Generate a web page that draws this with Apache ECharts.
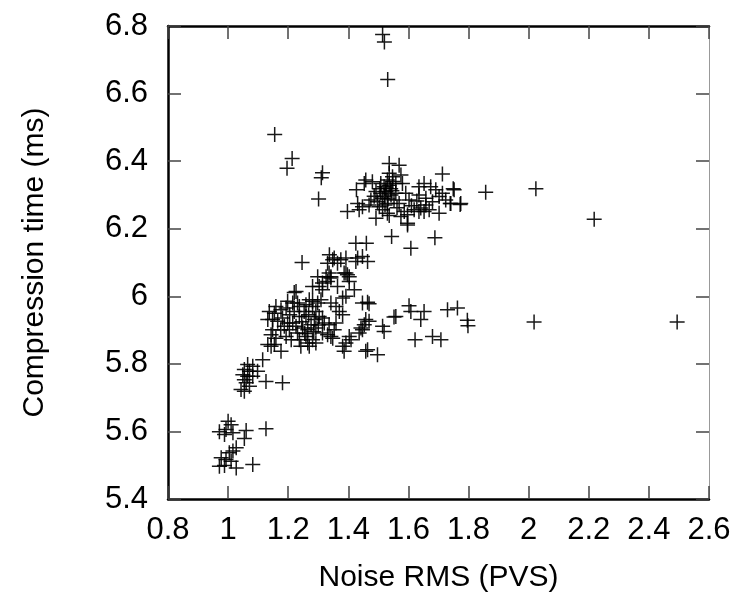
<!DOCTYPE html>
<html lang="en">

<head>
    <meta charset="UTF-8">
    <title>Compression time vs noise</title>
    <script src="https://cdn.jsdelivr.net/npm/echarts@6/dist/echarts.min.js"></script>
</head>
<style>
    body {
        margin: 0;
        background: #fff;
    }
</style>

<body>
    <div id="chart" style="width: 746px;height: 603px;"></div>
    <script>
        // axis ticks
        var xTicks = [0.8, 1, 1.2, 1.4, 1.6, 1.8, 2, 2.2, 2.4, 2.6];
        var yTicks = [5.4, 5.6, 5.8, 6, 6.2, 6.4, 6.6, 6.8];

        // [noise RMS, compression time]
        var outliers = [
            [1.514, 6.775], [1.520, 6.753], [1.531, 6.642], [1.155, 6.479], [1.213, 6.408],
            [1.196, 6.379], [1.314, 6.366], [1.310, 6.351], [1.301, 6.288], [1.397, 6.251],
            [1.427, 6.315], [1.544, 6.177], [1.608, 6.142], [1.688, 6.173], [1.713, 6.362],
            [1.425, 6.157], [1.460, 6.157], [1.749, 6.318], [1.857, 6.308], [2.024, 6.318],
            [2.218, 6.228], [1.702, 6.246], [1.772, 6.272], [1.739, 6.275], [1.597, 6.216],
            [1.536, 6.239]
        ];
        var upperCluster = [
            [1.536, 6.393], [1.569, 6.388], [1.458, 6.344], [1.480, 6.339], [1.453, 6.334],
            [1.536, 6.364], [1.547, 6.354], [1.530, 6.344], [1.575, 6.359], [1.508, 6.334],
            [1.519, 6.324], [1.536, 6.329], [1.558, 6.334], [1.580, 6.334], [1.492, 6.310],
            [1.508, 6.305], [1.525, 6.310], [1.542, 6.300], [1.558, 6.305], [1.591, 6.305],
            [1.635, 6.324], [1.652, 6.334], [1.674, 6.324], [1.691, 6.315], [1.713, 6.305],
            [1.752, 6.315], [1.475, 6.285], [1.497, 6.280], [1.514, 6.290], [1.530, 6.275],
            [1.552, 6.285], [1.569, 6.275], [1.602, 6.285], [1.431, 6.275], [1.447, 6.265],
            [1.436, 6.256], [1.469, 6.270], [1.503, 6.265], [1.514, 6.256], [1.635, 6.300],
            [1.658, 6.290], [1.680, 6.280], [1.702, 6.295], [1.724, 6.285], [1.741, 6.275],
            [1.658, 6.270], [1.641, 6.261], [1.669, 6.256], [1.652, 6.251], [1.619, 6.256],
            [1.635, 6.251], [1.586, 6.251], [1.597, 6.241], [1.575, 6.236], [1.530, 6.246],
            [1.492, 6.231], [1.774, 6.275], [1.597, 6.211], [1.525, 6.320], [1.541, 6.318],
            [1.520, 6.295], [1.532, 6.288], [1.545, 6.312], [1.505, 6.318], [1.548, 6.340],
            [1.522, 6.270], [1.486, 6.296], [1.562, 6.262], [1.610, 6.268], [1.628, 6.282]
        ];
        var middleUpper = [
            [1.246, 6.100], [1.337, 6.123], [1.348, 6.108], [1.364, 6.098], [1.331, 6.098],
            [1.353, 6.113], [1.375, 6.108], [1.392, 6.113], [1.425, 6.103], [1.431, 6.113],
            [1.447, 6.118], [1.464, 6.103], [1.336, 6.069], [1.326, 6.058], [1.298, 6.058],
            [1.392, 6.069], [1.403, 6.058], [1.386, 6.069], [1.397, 6.064], [1.403, 6.044],
            [1.420, 6.019], [1.342, 6.058], [1.364, 6.029], [1.303, 6.029], [1.314, 6.019],
            [1.281, 6.029], [1.342, 6.054], [1.331, 6.044], [1.314, 6.039], [1.226, 6.014],
            [1.220, 6.011], [1.381, 5.995], [1.392, 6.000], [1.464, 5.982], [1.469, 5.978],
            [1.447, 5.980]
        ];
        var middleCluster = [
            [1.198, 5.985], [1.215, 5.980], [1.231, 5.980], [1.270, 5.990], [1.281, 5.985],
            [1.259, 5.975], [1.159, 5.970], [1.176, 5.960], [1.193, 5.965], [1.137, 5.955],
            [1.154, 5.950], [1.132, 5.931], [1.148, 5.931], [1.165, 5.926], [1.181, 5.936],
            [1.198, 5.921], [1.215, 5.921], [1.187, 5.911], [1.237, 5.970], [1.253, 5.955],
            [1.237, 5.940], [1.259, 5.940], [1.281, 5.970], [1.292, 5.955], [1.303, 5.940],
            [1.287, 5.931], [1.276, 5.916], [1.292, 5.906], [1.265, 5.901], [1.248, 5.906],
            [1.226, 5.911], [1.204, 5.901], [1.231, 5.891], [1.148, 5.901], [1.143, 5.886],
            [1.159, 5.876], [1.132, 5.857], [1.143, 5.852], [1.154, 5.857], [1.176, 5.837],
            [1.193, 5.881], [1.210, 5.871], [1.237, 5.871], [1.259, 5.881], [1.281, 5.871],
            [1.265, 5.862], [1.292, 5.862], [1.242, 5.852], [1.270, 5.852], [1.314, 5.891],
            [1.331, 5.886], [1.342, 5.881], [1.320, 5.921], [1.336, 5.916], [1.314, 5.936],
            [1.309, 5.990], [1.298, 5.980], [1.342, 5.980], [1.359, 5.970], [1.370, 5.955],
            [1.381, 5.945], [1.359, 5.921], [1.353, 5.901], [1.348, 5.876], [1.381, 5.852],
            [1.392, 5.862], [1.403, 5.881], [1.409, 5.871], [1.386, 5.837], [1.458, 5.931],
            [1.469, 5.926], [1.453, 5.916], [1.442, 5.906], [1.436, 5.891], [1.447, 5.901],
            [1.514, 5.911], [1.519, 5.896], [1.458, 5.837], [1.497, 5.827], [1.464, 5.842],
            [1.558, 5.940], [1.552, 5.939], [1.602, 5.972], [1.608, 5.955], [1.652, 5.955],
            [1.641, 5.931], [1.730, 5.960], [1.763, 5.965], [1.796, 5.929], [1.798, 5.913],
            [1.622, 5.871], [1.680, 5.881], [1.708, 5.871], [2.018, 5.924], [2.494, 5.924],
            [1.220, 5.955], [1.245, 5.925], [1.268, 5.945], [1.205, 5.945], [1.175, 5.900],
            [1.300, 5.915], [1.285, 5.895], [1.255, 5.890]
        ];
        var lowCluster = [
            [1.115, 5.812], [1.065, 5.798], [1.082, 5.793], [1.071, 5.778], [1.054, 5.783],
            [1.098, 5.778], [1.049, 5.768], [1.065, 5.763], [1.054, 5.753], [1.082, 5.763],
            [1.060, 5.744], [1.071, 5.734], [1.043, 5.724], [1.054, 5.719], [1.126, 5.748],
            [1.181, 5.744], [1.000, 5.630], [1.010, 5.620], [0.993, 5.606], [1.016, 5.596],
            [0.971, 5.599], [0.988, 5.591], [1.060, 5.603], [1.054, 5.579], [1.126, 5.608],
            [1.027, 5.552], [1.016, 5.542], [1.004, 5.537], [0.977, 5.522], [0.993, 5.517],
            [1.010, 5.512], [0.971, 5.497], [0.988, 5.499], [1.027, 5.492], [1.082, 5.502]
        ];

        var font = 'Liberation Sans, Arial, Helvetica, sans-serif';
        var plusSymbol = 'path://M9,0h2v20h-2zM0,9h20v2h-20z';

        function frameAxis(pos, min, max, step, lineColor, lineWidth, show) {
            return {
                type: 'value',
                position: pos,
                min: min,
                max: max,
                interval: step,
                axisLine: { show: true, onZero: false, lineStyle: { color: lineColor, width: lineWidth } },
                axisTick: { show: true, inside: true, length: 13, lineStyle: { color: '#444', width: 1.5 } },
                axisLabel: { show: show, fontSize: 31, color: '#000', fontFamily: font, margin: 16 },
                splitLine: { show: false }
            };
        }

        var chart = echarts.init(document.getElementById('chart'));
        var xMin = xTicks[0], xMax = xTicks[xTicks.length - 1];
        var yMin = yTicks[0], yMax = yTicks[yTicks.length - 1];

        var xBottom = frameAxis('bottom', xMin, xMax, 0.2, '#000', 2.5, true);
        xBottom.name = 'Noise RMS (PVS)';
        xBottom.nameLocation = 'middle';
        xBottom.nameGap = 64;
        xBottom.nameTextStyle = { fontSize: 30, color: '#000', fontFamily: font };

        var yLeft = frameAxis('left', yMin, yMax, 0.2, '#000', 2.5, true);
        yLeft.axisLabel.margin = 20;
        yLeft.name = 'Compression time (ms)';
        yLeft.nameLocation = 'middle';
        yLeft.nameGap = 118;
        yLeft.nameTextStyle = { fontSize: 30, color: '#000', fontFamily: font };

        var allPoints = outliers.concat(upperCluster, middleUpper, middleCluster, lowCluster);

        option = {
            animation: false,
            grid: { left: 168, right: 37, top: 26, bottom: 104 },
            xAxis: [xBottom, frameAxis('top', xMin, xMax, 0.2, '#000', 2.5, false)],
            yAxis: [yLeft, frameAxis('right', yMin, yMax, 0.2, '#999', 1, false)],
            series: [{
                type: 'scatter',
                symbol: plusSymbol,
                symbolSize: 15,
                itemStyle: { color: '#000', opacity: 0.9 },
                data: allPoints
            }]
        };
        chart.setOption(option);
    </script>
</body>

</html>
